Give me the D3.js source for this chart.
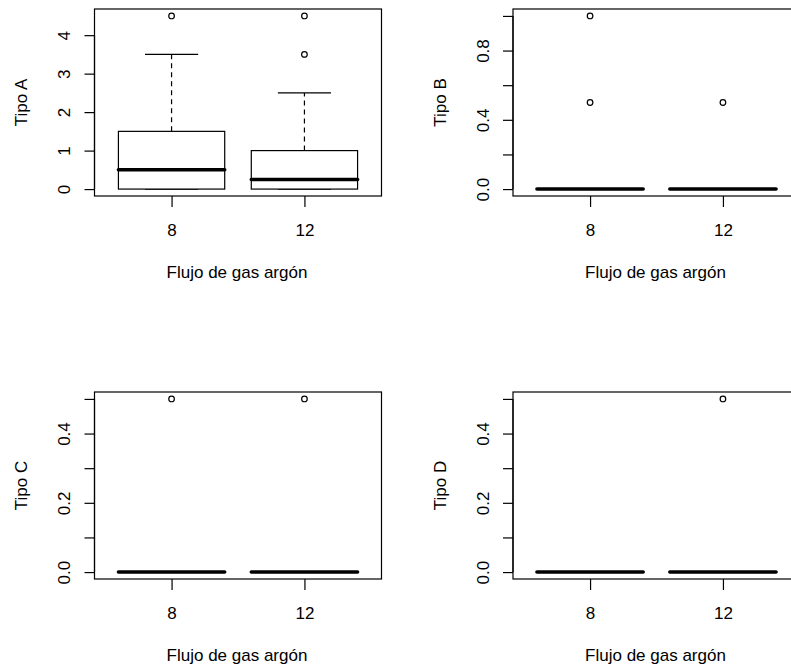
<!DOCTYPE html>
<html>
<head>
<meta charset="utf-8">
<script src="https://cdn.jsdelivr.net/npm/d3@7"></script>
<style>
  body { margin: 0; background: #fff; }
  svg text { font-family: "Liberation Sans", Arial, sans-serif; fill: #000; }
</style>
</head>
<body>
<div id="chart"></div>
<script>
// groups on the x axis
var groups = ["8", "12"];
var xLabel = "Flujo de gas argón";

// five-number summaries + outliers, one entry per group
var tipoA = [
  {lo: 0, q1: 0, med: 0.5, q3: 1.5, hi: 3.5, out: [4.5]},
  {lo: 0, q1: 0, med: 0.25, q3: 1.0, hi: 2.5, out: [3.5, 4.5]}
];
var tipoB = [
  {lo: 0, q1: 0, med: 0, q3: 0, hi: 0, out: [0.5, 1.0]},
  {lo: 0, q1: 0, med: 0, q3: 0, hi: 0, out: [0.5]}
];
var tipoC = [
  {lo: 0, q1: 0, med: 0, q3: 0, hi: 0, out: [0.5]},
  {lo: 0, q1: 0, med: 0, q3: 0, hi: 0, out: [0.5]}
];
var tipoD = [
  {lo: 0, q1: 0, med: 0, q3: 0, hi: 0, out: []},
  {lo: 0, q1: 0, med: 0, q3: 0, hi: 0, out: [0.5]}
];

// y ticks and which of them carry a label
var ticksA = [0, 1, 2, 3, 4],            labelsA = [0, 1, 2, 3, 4];
var ticksB = [0, 0.2, 0.4, 0.6, 0.8, 1], labelsB = [0, 0.4, 0.8];
var ticksCD = [0, 0.1, 0.2, 0.3, 0.4, 0.5], labelsCD = [0, 0.2, 0.4];

var panels = [
  {name: "Tipo A", data: tipoA, ticks: ticksA, labels: labelsA, fmt: d3.format("d"),   left: 94.5, top: 9},
  {name: "Tipo B", data: tipoB, ticks: ticksB, labels: labelsB, fmt: d3.format(".1f"), left: 513, top: 9},
  {name: "Tipo C", data: tipoC, ticks: ticksCD, labels: labelsCD, fmt: d3.format(".1f"), left: 94.5, top: 392},
  {name: "Tipo D", data: tipoD, ticks: ticksCD, labels: labelsCD, fmt: d3.format(".1f"), left: 513, top: 392}
];

var width = 791, height = 669;
var pw = 287, ph = 187;   // plot region size
var fontSize = 17;
var lw = 1.2;             // R lwd=1 looks a bit heavier in the reference

var svg = d3.select("#chart").append("svg")
    .attr("width", width)
    .attr("height", height);

panels.forEach(function(p) {
  var g = svg.append("g")
      .attr("transform", "translate(" + p.left + "," + p.top + ")");

  // R style: data range padded by 4% each side
  var all = [];
  p.data.forEach(function(d) { all.push(d.lo, d.hi); all = all.concat(d.out); });
  var ymin = d3.min(all), ymax = d3.max(all), pad = (ymax - ymin) * 0.04;

  var x = d3.scaleLinear().domain([0.42, 2.58]).range([0, pw]);
  var y = d3.scaleLinear().domain([ymin - pad, ymax + pad]).range([ph, 0]);

  // y axis
  var yAxis = g.append("g")
      .call(d3.axisLeft(y).tickValues(p.ticks).tickSize(10)
        .tickFormat(function(v) { return p.labels.some(function(l) { return Math.abs(l - v) < 1e-9; }) ? p.fmt(v) : ""; }));
  yAxis.select(".domain").remove();
  yAxis.selectAll("line").attr("stroke", "#000").attr("stroke-width", lw);
  yAxis.selectAll("text")
      .attr("x", null).attr("dy", "0.35em")
      .attr("transform", "translate(-30,0) rotate(-90)")
      .attr("text-anchor", "middle")
      .style("font-size", fontSize + "px")
      .style("font-family", "Liberation Sans, Arial, sans-serif");
  yAxis.append("line")
      .attr("y1", y(p.ticks[0])).attr("y2", y(p.ticks[p.ticks.length - 1]))
      .attr("stroke", "#000").attr("stroke-width", lw);

  // x axis
  var xAxis = g.append("g")
      .attr("transform", "translate(0," + ph + ")")
      .call(d3.axisBottom(x).tickValues([1, 2]).tickSize(11)
        .tickFormat(function(v, i) { return groups[i]; }));
  xAxis.select(".domain").remove();
  xAxis.selectAll("line").attr("stroke", "#000").attr("stroke-width", lw);
  xAxis.selectAll("text")
      .attr("y", 34).attr("dy", "0.35em")
      .style("font-size", fontSize + "px")
      .style("font-family", "Liberation Sans, Arial, sans-serif");

  // axis titles
  g.append("text")
      .attr("x", pw / 2 - 1).attr("y", ph + 76).attr("dy", "0.35em")
      .attr("text-anchor", "middle")
      .style("font-size", fontSize + "px")
      .text(xLabel);
  g.append("text")
      .attr("transform", "translate(-73," + ph / 2 + ") rotate(-90)")
      .attr("dy", "0.35em")
      .attr("text-anchor", "middle")
      .style("font-size", fontSize + "px")
      .text(p.name);

  // boxes
  var box = g.selectAll(".box")
      .data(p.data)
    .enter().append("g")
      .attr("class", "box");

  // whiskers (dashed)
  box.append("line")
      .attr("x1", function(d, i) { return x(i + 1); })
      .attr("x2", function(d, i) { return x(i + 1); })
      .attr("y1", function(d) { return y(d.q3); })
      .attr("y2", function(d) { return y(d.hi); })
      .attr("stroke", "#000").attr("stroke-width", lw).attr("stroke-dasharray", "5,4");
  box.append("line")
      .attr("x1", function(d, i) { return x(i + 1); })
      .attr("x2", function(d, i) { return x(i + 1); })
      .attr("y1", function(d) { return y(d.q1); })
      .attr("y2", function(d) { return y(d.lo); })
      .attr("stroke", "#000").attr("stroke-width", lw).attr("stroke-dasharray", "5,4");

  // staples
  ["hi", "lo"].forEach(function(k) {
    box.append("line")
        .attr("x1", function(d, i) { return x(i + 1 - 0.2); })
        .attr("x2", function(d, i) { return x(i + 1 + 0.2); })
        .attr("y1", function(d) { return y(d[k]); })
        .attr("y2", function(d) { return y(d[k]); })
        .attr("stroke", "#000").attr("stroke-width", lw);
  });

  // box body
  box.append("rect")
      .attr("x", function(d, i) { return x(i + 1 - 0.4); })
      .attr("width", x(0.8) - x(0))
      .attr("y", function(d) { return y(d.q3); })
      .attr("height", function(d) { return y(d.q1) - y(d.q3); })
      .attr("fill", "#fff").attr("stroke", "#000").attr("stroke-width", lw);

  // median
  box.append("line")
      .attr("x1", function(d, i) { return x(i + 1 - 0.4); })
      .attr("x2", function(d, i) { return x(i + 1 + 0.4); })
      .attr("y1", function(d) { return y(d.med); })
      .attr("y2", function(d) { return y(d.med); })
      .attr("stroke", "#000").attr("stroke-width", 3.5)
      .attr("stroke-linecap", "round");

  // outliers
  box.each(function(d, i) {
    d3.select(this).selectAll("circle")
        .data(d.out)
      .enter().append("circle")
        .attr("cx", x(i + 1))
        .attr("cy", function(v) { return y(v); })
        .attr("r", 2.8)
        .attr("fill", "none").attr("stroke", "#000").attr("stroke-width", lw);
  });

  // plot frame
  g.append("rect")
      .attr("width", pw).attr("height", ph)
      .attr("fill", "none").attr("stroke", "#000").attr("stroke-width", lw);
});
</script>
</body>
</html>
